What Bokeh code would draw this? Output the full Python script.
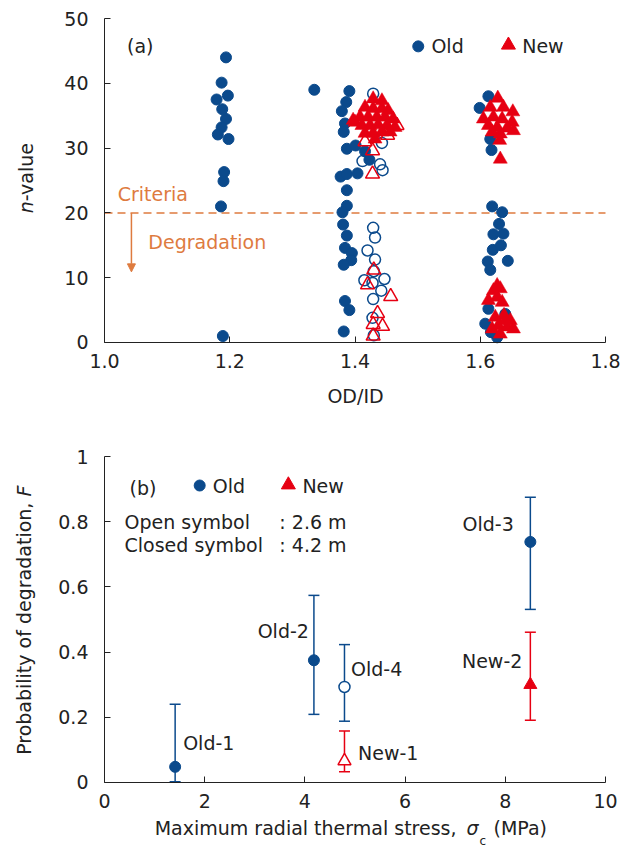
from bokeh.plotting import figure
from bokeh.layouts import column
from bokeh.models import (Label, Span, Arrow, NormalHead, TeeHead, Whisker,
                          ColumnDataSource, FixedTicker, CustomJSTickFormatter)
from bokeh.embed import file_html
from bokeh.resources import INLINE

FONT = "DejaVu Sans"
BLUE = "#0b4a8c"
RED = "#e60012"
ORANGE = "#de7b3f"
TXT = "#222222"

# ---------------- Panel (a) data: OD/ID vs n-value ----------------
old_closed_x = [1.194, 1.187, 1.197, 1.179, 1.188, 1.194, 1.187, 1.181, 1.198, 1.191, 1.190, 1.186, 1.189,
                1.335,
                1.391, 1.386, 1.379, 1.384, 1.382, 1.387, 1.401, 1.416, 1.423, 1.377, 1.387, 1.404,
                1.387, 1.387, 1.380, 1.381, 1.387, 1.384, 1.395, 1.394, 1.382, 1.384, 1.391, 1.382,
                1.613, 1.599, 1.616, 1.618, 1.619, 1.635, 1.630, 1.621, 1.637, 1.620, 1.633, 1.612,
                1.644, 1.616, 1.613, 1.640, 1.608, 1.627, 1.617]
old_closed_n = [44.0, 40.1, 38.1, 37.5, 36.0, 34.5, 33.2, 32.1, 31.4, 26.3, 24.9, 21.0, 1.0,
                39.0,
                38.8, 37.1, 35.7, 33.8, 32.5, 29.9, 30.4, 29.5, 28.2, 25.6, 26.0, 26.1,
                23.5, 21.1, 20.1, 18.2, 16.5, 14.6, 13.8, 12.7, 12.0, 6.4, 5.0, 1.7,
                38.0, 36.2, 31.4, 29.7, 21.0, 20.1, 18.3, 16.7, 16.8, 14.3, 15.0, 12.5,
                12.6, 11.2, 5.2, 4.4, 2.9, 0.8, 1.6]

old_open_x = [1.429, 1.412, 1.440, 1.444, 1.443, 1.429, 1.432, 1.420, 1.432, 1.430,
              1.415, 1.428, 1.447, 1.442, 1.429, 1.428, 1.430]
old_open_n = [38.4, 28.0, 27.5, 26.6, 30.8, 17.7, 16.2, 14.2, 12.8, 11.0,
              9.6, 9.2, 9.8, 8.0, 6.7, 3.8, 1.1]

new_closed_x = [1.429, 1.443, 1.416, 1.429, 1.443, 1.453, 1.408, 1.421, 1.435, 1.448, 1.461,
                1.411, 1.424, 1.437, 1.451, 1.464, 1.416, 1.429, 1.443, 1.456, 1.432, 1.400, 1.397,
                1.628, 1.616, 1.637, 1.652, 1.605, 1.621, 1.635, 1.651, 1.613, 1.627, 1.643,
                1.653, 1.619, 1.632, 1.631, 1.632,
                1.627, 1.632, 1.621, 1.613, 1.627, 1.635, 1.624, 1.638, 1.648, 1.619, 1.629,
                1.643, 1.653, 1.632, 1.640]
new_closed_n = [37.6, 37.3, 36.3, 36.1, 36.1, 35.8, 34.8, 34.8, 34.8, 34.8, 34.5,
                33.5, 33.5, 33.6, 33.5, 33.2, 32.3, 32.3, 32.5, 32.5, 31.4, 34.0, 34.3,
                37.7, 36.3, 36.3, 35.6, 34.5, 34.8, 34.5, 34.0, 33.5, 33.2, 33.1,
                32.7, 32.5, 32.2, 31.2, 28.3,
                8.8, 8.3, 8.0, 6.5, 7.0, 6.2, 3.9, 4.2, 3.4, 2.1, 2.6,
                2.4, 2.1, 1.3, 3.4]

new_open_x = [1.428, 1.428, 1.430, 1.420, 1.457, 1.436, 1.429, 1.444, 1.429, 1.467, 1.416, 1.452]
new_open_n = [29.6, 26.0, 11.2, 8.9, 7.1, 4.5, 2.8, 2.5, 1.0, 33.5, 31.0, 32.0]

criteria_n = 20
a_xticks = [1.0, 1.2, 1.4, 1.6, 1.8]
a_yticks = [0, 10, 20, 30, 40, 50]

# ---------------- Panel (b) data: stress vs probability ----------------
old_closed_s = [1.41, 4.18, 8.50]
old_closed_F = [0.048, 0.375, 0.738]
old_closed_lo = [0.002, 0.209, 0.531]
old_closed_hi = [0.240, 0.574, 0.875]
old_closed_names = ["Old-1", "Old-2", "Old-3"]

old_open_s = [4.79]
old_open_F = [0.293]
old_open_lo = [0.188]
old_open_hi = [0.423]
old_open_names = ["Old-4"]

new_closed_s = [8.50]
new_closed_F = [0.300]
new_closed_lo = [0.191]
new_closed_hi = [0.461]
new_closed_names = ["New-2"]

new_open_s = [4.79]
new_open_F = [0.066]
new_open_lo = [0.033]
new_open_hi = [0.158]
new_open_names = ["New-1"]

b_xticks = [0, 2, 4, 6, 8, 10]
b_yticks = [0, 0.2, 0.4, 0.6, 0.8, 1]


def style(p, xticks, yticks, xb, yb, xfmt, yfmt):
    p.outline_line_color = None
    p.grid.visible = False
    p.background_fill_color = "white"
    p.border_fill_color = "white"
    p.xaxis.ticker = FixedTicker(ticks=xticks)
    p.yaxis.ticker = FixedTicker(ticks=yticks)
    p.xaxis.formatter = CustomJSTickFormatter(code=xfmt)
    p.yaxis.formatter = CustomJSTickFormatter(code=yfmt)
    # axes placed at the data origin, bounded to the data extent
    p.xaxis.fixed_location = yb[0]
    p.yaxis.fixed_location = xb[0]
    p.xaxis.bounds = xb
    p.yaxis.bounds = yb
    for ax in (p.xaxis[0], p.yaxis[0]):
        ax.axis_line_color = TXT
        ax.axis_line_width = 1
        ax.major_tick_in = 6
        ax.major_tick_out = 0
        ax.major_tick_line_color = TXT
        ax.minor_tick_line_color = None
        ax.major_label_text_font = FONT
        ax.major_label_text_font_size = "19px"
        ax.major_label_text_color = TXT
    p.xaxis.major_label_standoff = 12
    p.yaxis.major_label_standoff = 16


def lab(p, x, y, text, color=TXT, size="19px", align="left", baseline="middle",
        style_="normal", angle=0, x_offset=0, y_offset=0):
    p.add_layout(Label(x=x, y=y, text=text, text_font=FONT, text_font_size=size,
                       text_color=color, text_align=align, text_baseline=baseline,
                       text_font_style=style_, angle=angle,
                       x_offset=x_offset, y_offset=y_offset))


# ================= Figure (a) =================
pa = figure(width=635, height=428, x_range=(0.83393, 1.84790), y_range=(-13.272, 52.778),
            output_backend="svg", toolbar_location=None, min_border=0)
style(pa, a_xticks, a_yticks, (1.0, 1.8), (0, 50),
      "return tick.toFixed(1);", "return tick.toFixed(0);")

pa.segment(x0=[1.0], y0=[criteria_n], x1=[1.8], y1=[criteria_n], line_color=ORANGE,
           line_width=1.5, line_dash="8 5")
pa.add_layout(Arrow(end=NormalHead(size=8, fill_color=ORANGE, line_color=ORANGE),
                    x_start=1.043, y_start=criteria_n, x_end=1.043, y_end=10.9,
                    line_color=ORANGE, line_width=1.5))

pa.scatter(old_open_x, old_open_n, marker="circle", size=11, fill_color=None,
           line_color=BLUE, line_width=1.5)
pa.scatter(old_closed_x, old_closed_n, marker="circle", size=11, fill_color=BLUE,
           line_color=BLUE)
pa.scatter(new_open_x, new_open_n, marker="triangle", size=14, fill_color=None,
           line_color=RED, line_width=1.5)
pa.scatter(new_closed_x, new_closed_n, marker="triangle", size=14, fill_color=RED,
           line_color=RED, line_width=0.5)

# legend (a)
pa.scatter([1.501], [45.7], marker="circle", size=11, fill_color=BLUE, line_color=BLUE)
pa.scatter([1.645], [45.9], marker="triangle", size=14, fill_color=RED, line_color=RED)
lab(pa, 1.522, 45.7, "Old")
lab(pa, 1.667, 45.7, "New")
lab(pa, 1.036, 45.7, "(a)")
lab(pa, 1.021, 22.9, "Criteria", color=ORANGE)
lab(pa, 1.070, 15.5, "Degradation", color=ORANGE)
# axis titles (a)
lab(pa, 1.4008, -8.3, "OD/ID", align="center")
lab(pa, 0.8739, 21.8, "n", align="right", style_="italic", angle=1.5708)
lab(pa, 0.8739, 21.8, "-value", align="left", angle=1.5708)

# ================= Figure (b) =================
pb = figure(width=635, height=422, x_range=(-2.0758, 10.5988), y_range=(-0.20859, 1.08589),
            output_backend="svg", toolbar_location=None, min_border=0)
style(pb, b_xticks, b_yticks, (0, 10), (0, 1),
      "return tick.toFixed(0);", "return tick.toString();")


def errbars(p, s, lo, hi, color):
    src = ColumnDataSource(dict(x=s, lo=lo, hi=hi))
    p.add_layout(Whisker(source=src, base="x", lower="lo", upper="hi",
                         line_color=color, line_width=1.5,
                         lower_head=TeeHead(size=11, line_color=color, line_width=1.5),
                         upper_head=TeeHead(size=11, line_color=color, line_width=1.5)))


errbars(pb, old_closed_s, old_closed_lo, old_closed_hi, BLUE)
errbars(pb, old_open_s, old_open_lo, old_open_hi, BLUE)
errbars(pb, new_closed_s, new_closed_lo, new_closed_hi, RED)
errbars(pb, new_open_s, new_open_lo, new_open_hi, RED)

pb.scatter(old_closed_s, old_closed_F, marker="circle", size=11, fill_color=BLUE, line_color=BLUE)
pb.scatter(old_open_s, old_open_F, marker="circle", size=11, fill_color="white",
           line_color=BLUE, line_width=1.5)
pb.scatter(new_closed_s, new_closed_F, marker="triangle", size=13, fill_color=RED, line_color=RED)
pb.scatter(new_open_s, new_open_F, marker="triangle", size=13, fill_color="white",
           line_color=RED, line_width=1.5)

# case labels
lab(pb, 1.57, 0.122, old_closed_names[0])
lab(pb, 4.08, 0.466, old_closed_names[1], align="right")
lab(pb, 8.17, 0.794, old_closed_names[2], align="right")
lab(pb, 4.92, 0.348, old_open_names[0])
lab(pb, 5.06, 0.092, new_open_names[0])
lab(pb, 8.34, 0.372, new_closed_names[0], align="right")

# legend (b)
lab(pb, 0.50, 0.902, "(b)")
pb.scatter([1.90], [0.911], marker="circle", size=11, fill_color=BLUE, line_color=BLUE)
lab(pb, 2.16, 0.911, "Old")
pb.scatter([3.67], [0.913], marker="triangle", size=14, fill_color=RED, line_color=RED)
lab(pb, 3.95, 0.911, "New")
lab(pb, 0.40, 0.800, "Open symbol")
lab(pb, 3.49, 0.800, ": 2.6 m")
lab(pb, 0.40, 0.730, "Closed symbol")
lab(pb, 3.49, 0.730, ": 4.2 m")

# y axis title with italic F
lab(pb, -1.60, 0.877, "Probability of degradation, ", align="right", angle=1.5708)
lab(pb, -1.60, 0.877, "F", align="left", style_="italic", angle=1.5708)

# x axis title with italic sigma, subscript c
SX = 7.226
lab(pb, SX, -0.141, "Maximum radial thermal stress,", align="right", x_offset=-10)
lab(pb, SX, -0.141, "\u03c3", style_="italic")
lab(pb, SX, -0.180, "c", size="12px", x_offset=13)
lab(pb, SX, -0.141, "(MPa)", x_offset=27)

layout = column(pa, pb)
open("out.html", "w").write(file_html(layout, INLINE))
